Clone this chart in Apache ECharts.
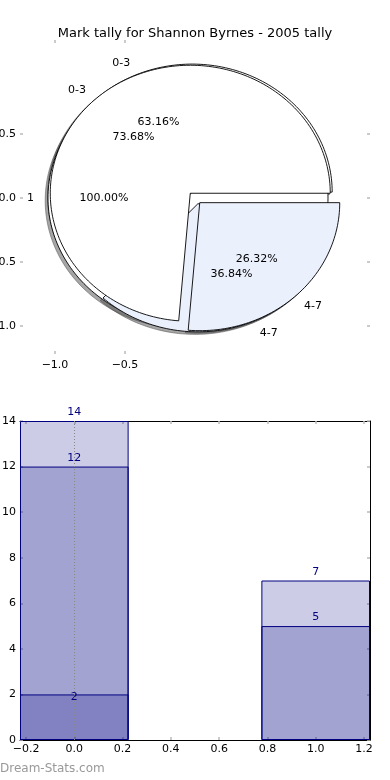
<!DOCTYPE html>
<html><head><meta charset="utf-8">
<script src="https://cdn.jsdelivr.net/npm/echarts@6/dist/echarts.min.js"></script>
<style>html,body{margin:0;padding:0;background:#fff}#c{width:390px;height:780px}</style>
</head><body><div id="c"></div>
<script>
// ---- data ----
const chartTitle = 'Mark tally for Shannon Byrnes - 2005 tally';
const pieALabels = ['1'];
const pieAValues = [1];
const pieBLabels = ['0-3', '4-7'];
const pieBValues = [14, 5];
const pieCLabels = ['0-3', '4-7'];
const pieCValues = [12, 7];

const barX = [0, 1];
const barTotal = [14, 7];
const barMid = [12, 5];
const barLowX = [0];
const barLow = [2];

const pieXTicks = [-1.0, -0.5];
const pieYTicks = [0.5, 0.0, -0.5, -1.0];
const barXTicks = [-0.2, 0, 0.2, 0.4, 0.6, 0.8, 1.0, 1.2];
const watermark = 'Dream-Stats.com';

// ---- styling / geometry ----
const FONT = 'DejaVu Sans';
const explode = 0.05;
const sliceColors = ['#ffffff', '#ebf0fd'];
const pies = [
  {labels: pieALabels, values: pieAValues},
  {labels: pieCLabels, values: pieCValues},
  {labels: pieBLabels, values: pieBValues}
];
const wedges = [];
pies.forEach(p => {
  const total = p.values.reduce((a, b) => a + b, 0);
  let start = 0;
  p.values.forEach((v, si) => {
    const span = v / total * 360;
    const mid = (start + span / 2) * Math.PI / 180;
    wedges.push({
      t1: start, t2: start + span,
      cx: explode * Math.cos(mid), cy: explode * Math.sin(mid), mid,
      label: p.labels[si], pct: (v / total * 100).toFixed(2) + '%',
      color: sliceColors[si % sliceColors.length]
    });
    start += span;
  });
});

function wedgePts(api, w, ox, oy) {
  const pts = [];
  const full = (w.t2 - w.t1) >= 359.999;
  if (!full) pts.push(api.coord([w.cx + ox, w.cy + oy]));
  const n = Math.max(12, Math.ceil((w.t2 - w.t1) / 1.5));
  for (let i = 0; i <= n; i++) {
    const t = (w.t1 + (w.t2 - w.t1) * i / n) * Math.PI / 180;
    pts.push(api.coord([w.cx + ox + Math.cos(t), w.cy + oy + Math.sin(t)]));
  }
  return pts;
}

const minus = v => (v < 0 ? '\u2212' : '') + Math.abs(v).toFixed(1);
const tickStyle = {show: true, inside: true, length: 3, lineStyle: {color: '#bbbbbb', width: 1.5}};
const hiddenLine = {show: false, onZero: false};
const blackLine = {show: true, onZero: false, lineStyle: {color: '#000', width: 1}};

const gridBarW = 350;
const barWidth = 0.45 * gridBarW / 1.45;

const chart = echarts.init(document.getElementById('c'), null, {renderer: 'canvas'});
chart.setOption({
  animation: false,
  backgroundColor: '#ffffff',
  textStyle: {fontFamily: FONT},
  title: {text: chartTitle, left: 'center', top: 22,
    textStyle: {fontFamily: FONT, fontSize: 13, fontWeight: 'normal', color: '#000'}},
  graphic: [{type: 'text', left: 0, top: 763,
    style: {text: watermark, fill: '#999', font: '12px ' + FONT}}],
  grid: [
    {left: 20, right: 20, top: 40, bottom: 426, outerBoundsMode: 'none', containLabel: false},
    {left: 20, right: 20, top: 421, bottom: 40, outerBoundsMode: 'none', containLabel: false}
  ],
  xAxis: [
    {gridIndex: 0, type: 'value', min: -1.25, max: 1.25, position: 'bottom',
      axisLine: hiddenLine, splitLine: {show: false},
      axisTick: Object.assign({customValues: pieXTicks}, tickStyle),
      axisLabel: {customValues: pieXTicks, formatter: minus, fontSize: 11, color: '#000', margin: 6, fontFamily: FONT}},
    {gridIndex: 0, type: 'value', min: -1.25, max: 1.25, position: 'top',
      axisLine: hiddenLine, splitLine: {show: false},
      axisTick: Object.assign({customValues: pieXTicks}, tickStyle),
      axisLabel: {show: false}},
    {gridIndex: 1, type: 'value', min: -0.225, max: 1.225, position: 'bottom',
      axisLine: blackLine, splitLine: {show: false},
      axisTick: Object.assign({customValues: barXTicks}, tickStyle),
      axisLabel: {customValues: barXTicks, formatter: minus, fontSize: 11, color: '#000', margin: 4, fontFamily: FONT}},
    {gridIndex: 1, type: 'value', min: -0.225, max: 1.225, position: 'top',
      axisLine: blackLine, splitLine: {show: false},
      axisTick: Object.assign({customValues: barXTicks}, tickStyle),
      axisLabel: {show: false}}
  ],
  yAxis: [
    {gridIndex: 0, type: 'value', min: -1.219, max: 1.234, position: 'left',
      axisLine: hiddenLine, splitLine: {show: false},
      axisTick: Object.assign({customValues: pieYTicks}, tickStyle),
      axisLabel: {customValues: pieYTicks, formatter: minus, fontSize: 11, color: '#000', margin: 4, fontFamily: FONT}},
    {gridIndex: 0, type: 'value', min: -1.219, max: 1.234, position: 'right',
      axisLine: hiddenLine, splitLine: {show: false},
      axisTick: Object.assign({customValues: pieYTicks}, tickStyle),
      axisLabel: {show: false}},
    {gridIndex: 1, type: 'value', min: 0, max: 14, interval: 2, position: 'left',
      axisLine: blackLine, splitLine: {show: false},
      axisTick: tickStyle,
      axisLabel: {fontSize: 11, color: '#000', margin: 4, fontFamily: FONT}},
    {gridIndex: 1, type: 'value', min: 0, max: 14, interval: 2, position: 'right',
      axisLine: blackLine, splitLine: {show: false},
      axisTick: tickStyle, axisLabel: {show: false}}
  ],
  series: [
    { // shadows
      type: 'custom', xAxisIndex: 0, yAxisIndex: 0, z: 1, silent: true,
      data: wedges.map(() => [0, 0]),
      renderItem: (params, api) => {
        const w = wedges[params.dataIndex];
        return {type: 'polygon', shape: {points: wedgePts(api, w, -0.02, -0.02)},
          style: {fill: 'rgba(77,77,77,0.5)', stroke: 'rgba(77,77,77,0.5)', lineWidth: 1}};
      }
    },
    { // wedges
      type: 'custom', xAxisIndex: 0, yAxisIndex: 0, z: 2, silent: true,
      data: wedges.map(() => [0, 0]),
      renderItem: (params, api) => {
        const w = wedges[params.dataIndex];
        return {type: 'polygon', shape: {points: wedgePts(api, w, 0, 0)},
          style: {fill: w.color, stroke: '#000', lineWidth: 0.9, lineJoin: 'miter'}};
      }
    },
    { // labels
      type: 'custom', xAxisIndex: 0, yAxisIndex: 0, z: 3, silent: true,
      data: wedges.map(() => [0, 0]),
      renderItem: (params, api) => {
        const w = wedges[params.dataIndex];
        const lp = api.coord([w.cx + 1.1 * Math.cos(w.mid), w.cy + 1.1 * Math.sin(w.mid)]);
        const pp = api.coord([w.cx + 0.6 * Math.cos(w.mid), w.cy + 0.6 * Math.sin(w.mid)]);
        return {type: 'group', children: [
          {type: 'text', style: {text: w.label, x: lp[0], y: lp[1], fill: '#000',
            font: '11px ' + FONT, align: Math.cos(w.mid) > 0 ? 'left' : 'right', verticalAlign: 'middle'}},
          {type: 'text', style: {text: w.pct, x: pp[0], y: pp[1], fill: '#000',
            font: '11px ' + FONT, align: 'center', verticalAlign: 'middle'}}
        ]};
      }
    },
    {
      type: 'bar', xAxisIndex: 2, yAxisIndex: 2, barWidth, barGap: '-100%',
      data: barX.map((x, i) => [x, barTotal[i]]),
      itemStyle: {color: 'rgba(0,0,128,0.2)', borderColor: '#000080', borderWidth: 1},
      label: {show: true, position: 'top', distance: 3, color: '#000080', fontSize: 11, fontFamily: FONT,
        formatter: p => p.value[1]}
    },
    {
      type: 'bar', xAxisIndex: 2, yAxisIndex: 2, barWidth, barGap: '-100%',
      data: barX.map((x, i) => [x, barMid[i]]),
      itemStyle: {color: 'rgba(0,0,128,0.2)', borderColor: '#000080', borderWidth: 1},
      label: {show: true, position: 'top', distance: 3, color: '#000080', fontSize: 11, fontFamily: FONT,
        formatter: p => p.value[1]}
    },
    {
      type: 'bar', xAxisIndex: 2, yAxisIndex: 2, barWidth, barGap: '-100%',
      data: barLowX.map((x, i) => [x, barLow[i]]),
      itemStyle: {color: 'rgba(0,0,128,0.2)', borderColor: '#000080', borderWidth: 1},
      label: {show: true, position: 'top', distance: -8, color: '#000080', fontSize: 11, fontFamily: FONT,
        formatter: p => p.value[1]},
      markLine: {silent: true, symbol: 'none', z: 10,
        lineStyle: {color: '#888', width: 1, type: [1, 2]},
        label: {show: false},
        data: [{xAxis: 0}]}
    }
  ]
});
</script></body></html>
